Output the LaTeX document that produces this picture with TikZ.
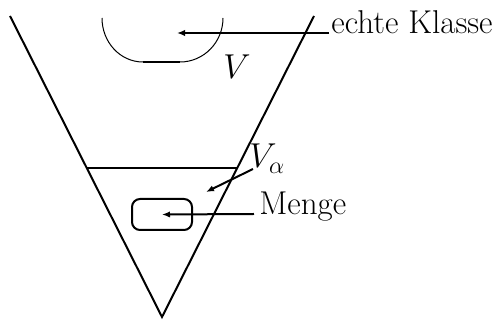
\documentclass[tikz,border=0pt]{standalone}
\usetikzlibrary{arrows.meta}
\begin{document}
\begin{tikzpicture}[x=0.5pt,y=-0.5pt,
  thickline/.style={line width=1pt},
  thinline/.style={line width=0.5pt},
  ptr/.style={line width=1pt,-{Latex[length=4pt,width=3.2pt]}},
  lbl/.style={anchor=base west,inner sep=0pt,font=\fontsize{16.5}{19}\selectfont}]
\useasboundingbox (0,0) rectangle (499,320);
% V shape
\coordinate (lt) at (10,16);
\coordinate (rt) at (314,16);
\coordinate (apex) at (162,317);
\draw[thickline] (lt) -- (apex) -- (rt);
% horizontal cut V_alpha
\coordinate (hl) at (87,168);
\coordinate (hr) at (237,168);
\draw[thickline] (hl) -- (hr);
% proper class shape
\coordinate (al) at (102,18);
\coordinate (bl) at (143,62);
\coordinate (br) at (180,62);
\coordinate (ar) at (223,18);
\draw[thinline] (al) .. controls (102,42) and (120,62) .. (bl);
\draw[thickline] (bl) -- (br);
\draw[thinline] (br) .. controls (204,62) and (223,42) .. (ar);
% set box
\node[draw,thickline,rounded corners=4pt,minimum width=30pt,minimum height=15.5pt,inner sep=0pt] (box) at (162,214.5) {};
% labels
\node[lbl] (ek) at (331,34) {echte Klasse};
\node[lbl] (v) at (223,79) {$V$};
\node[lbl] (va) at (249,168) {$V_\alpha$};
\node[lbl] (menge) at (259,215) {Menge};
% arrows
\coordinate (ekstart) at (329,33);
\coordinate (ektip) at (177,33);
\draw[ptr] (ekstart) -- (ektip);
\coordinate (vastart) at (253,169);
\coordinate (vatip) at (206,192);
\draw[ptr] (vastart) -- (vatip);
\coordinate (mstart) at (254,214);
\draw[ptr] (mstart) -- (box.center);
\end{tikzpicture}
\end{document}
